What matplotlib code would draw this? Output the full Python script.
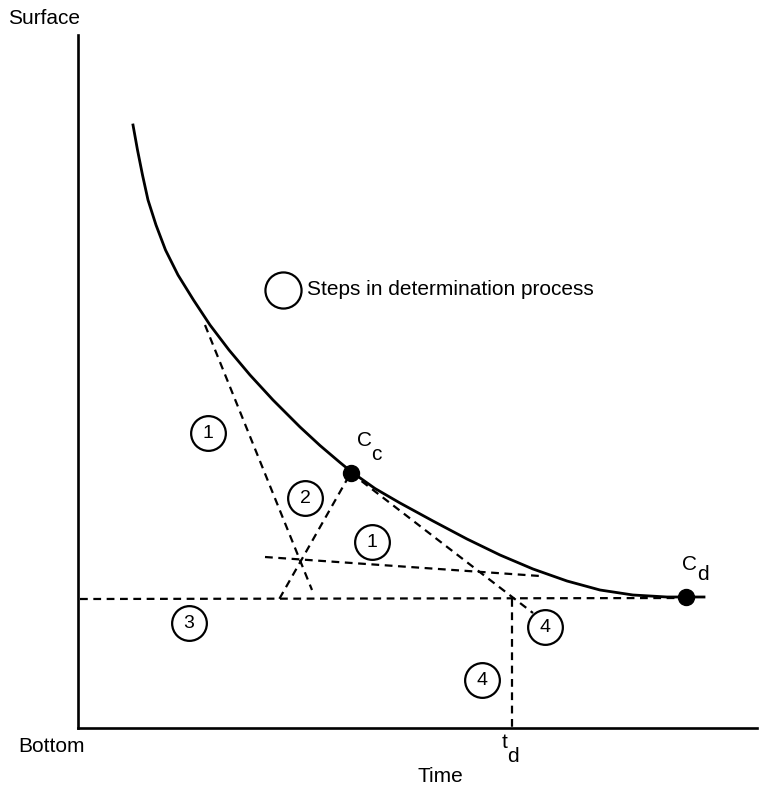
import matplotlib
matplotlib.use('Agg')
import matplotlib.pyplot as plt

plt.rcParams['font.family'] = ['Liberation Sans', 'DejaVu Sans']

# 曲线（读自原图，像素坐标）
curve_x = [133, 137.5, 142.5, 148, 156, 165.5, 178, 193.5, 210, 229, 250, 273, 300, 320,
           340, 351, 375, 400, 433, 467, 500, 533, 567, 600, 633, 667, 686, 704]
curve_y = [125, 150, 175, 200, 225, 250, 275, 300, 325, 350, 375, 400, 427, 445.5,
           462.5, 471.5, 488.5, 503, 521, 539, 555, 569, 581, 590, 595, 597, 597, 597]

# 关键点
point_x = [351, 686]
point_y = [473, 597]

# 虚线段 (x0, y0, x1, y1)
dash_lines = [
    (205, 325, 312, 590),   # 1
    (265, 557, 540, 576),   # 1
    (349, 476, 277, 603),   # 2
    (80, 599, 686, 598),    # 3
    (351, 473, 533, 613),   # 4
    (512, 599, 512, 728),   # 4
]

# 步骤编号
step_labels = ['1', '2', '1', '3', '4', '4']
step_x = [208, 305, 372, 189, 545, 482]
step_y = [433, 498, 542, 623, 627, 680]

fig = plt.figure(figsize=(7.59, 7.89), dpi=100)
W, H = 759, 789
ax = fig.add_axes([78 / W, (H - 728) / H, (757 - 78) / W, (728 - 35) / H])
ax.set_xlim(78, 757)
ax.set_ylim(728, 35)
for s in ['top', 'right']:
    ax.spines[s].set_visible(False)
for s in ['left', 'bottom']:
    ax.spines[s].set_linewidth(1.9)
ax.set_xticks([])
ax.set_yticks([])

# 曲线
ax.plot(curve_x, curve_y, color='black', lw=2.0, zorder=3, solid_joinstyle='round')

# 虚线
for x0, y0, x1, y1 in dash_lines:
    ax.plot([x0, x1], [y0, y1], color='black', lw=1.6, dashes=(3.5, 2.5), zorder=2)

# 点
ax.plot(point_x, point_y, 'o', color='black', ms=11.5, zorder=4)
ax.text(357, 441, 'C', fontsize=15, ha='left', va='center')
ax.text(371, 455, 'c', fontsize=15, ha='left', va='center')
ax.text(682, 565, 'C', fontsize=15, ha='left', va='center')
ax.text(697, 575, 'd', fontsize=15, ha='left', va='center')

# 圆圈编号
for lab, x, y in zip(step_labels, step_x, step_y):
    ax.plot(x, y, 'o', ms=25, mfc='white', mec='black', mew=1.6, zorder=5)
    ax.text(x, y + 1, lab, fontsize=14, ha='center', va='center', zorder=6)

# 图例
ax.plot(283, 290, 'o', ms=26, mfc='white', mec='black', mew=1.6, zorder=5, clip_on=False)
ax.text(307, 290, 'Steps in determination process', fontsize=15, ha='left', va='center')

# 轴标签
fig.text(8 / W, 1 - 18 / H, 'Surface', fontsize=15, ha='left', va='center')
fig.text(18 / W, 1 - 746 / H, 'Bottom', fontsize=15, ha='left', va='center')
fig.text(440 / W, 1 - 776 / H, 'Time', fontsize=15, ha='center', va='center')
fig.text(502 / W, 1 - 742 / H, 't', fontsize=15, ha='left', va='center')
fig.text(507 / W, 1 - 756 / H, 'd', fontsize=15, ha='left', va='center')

plt.savefig('out.png', dpi=100)
plt.close()
